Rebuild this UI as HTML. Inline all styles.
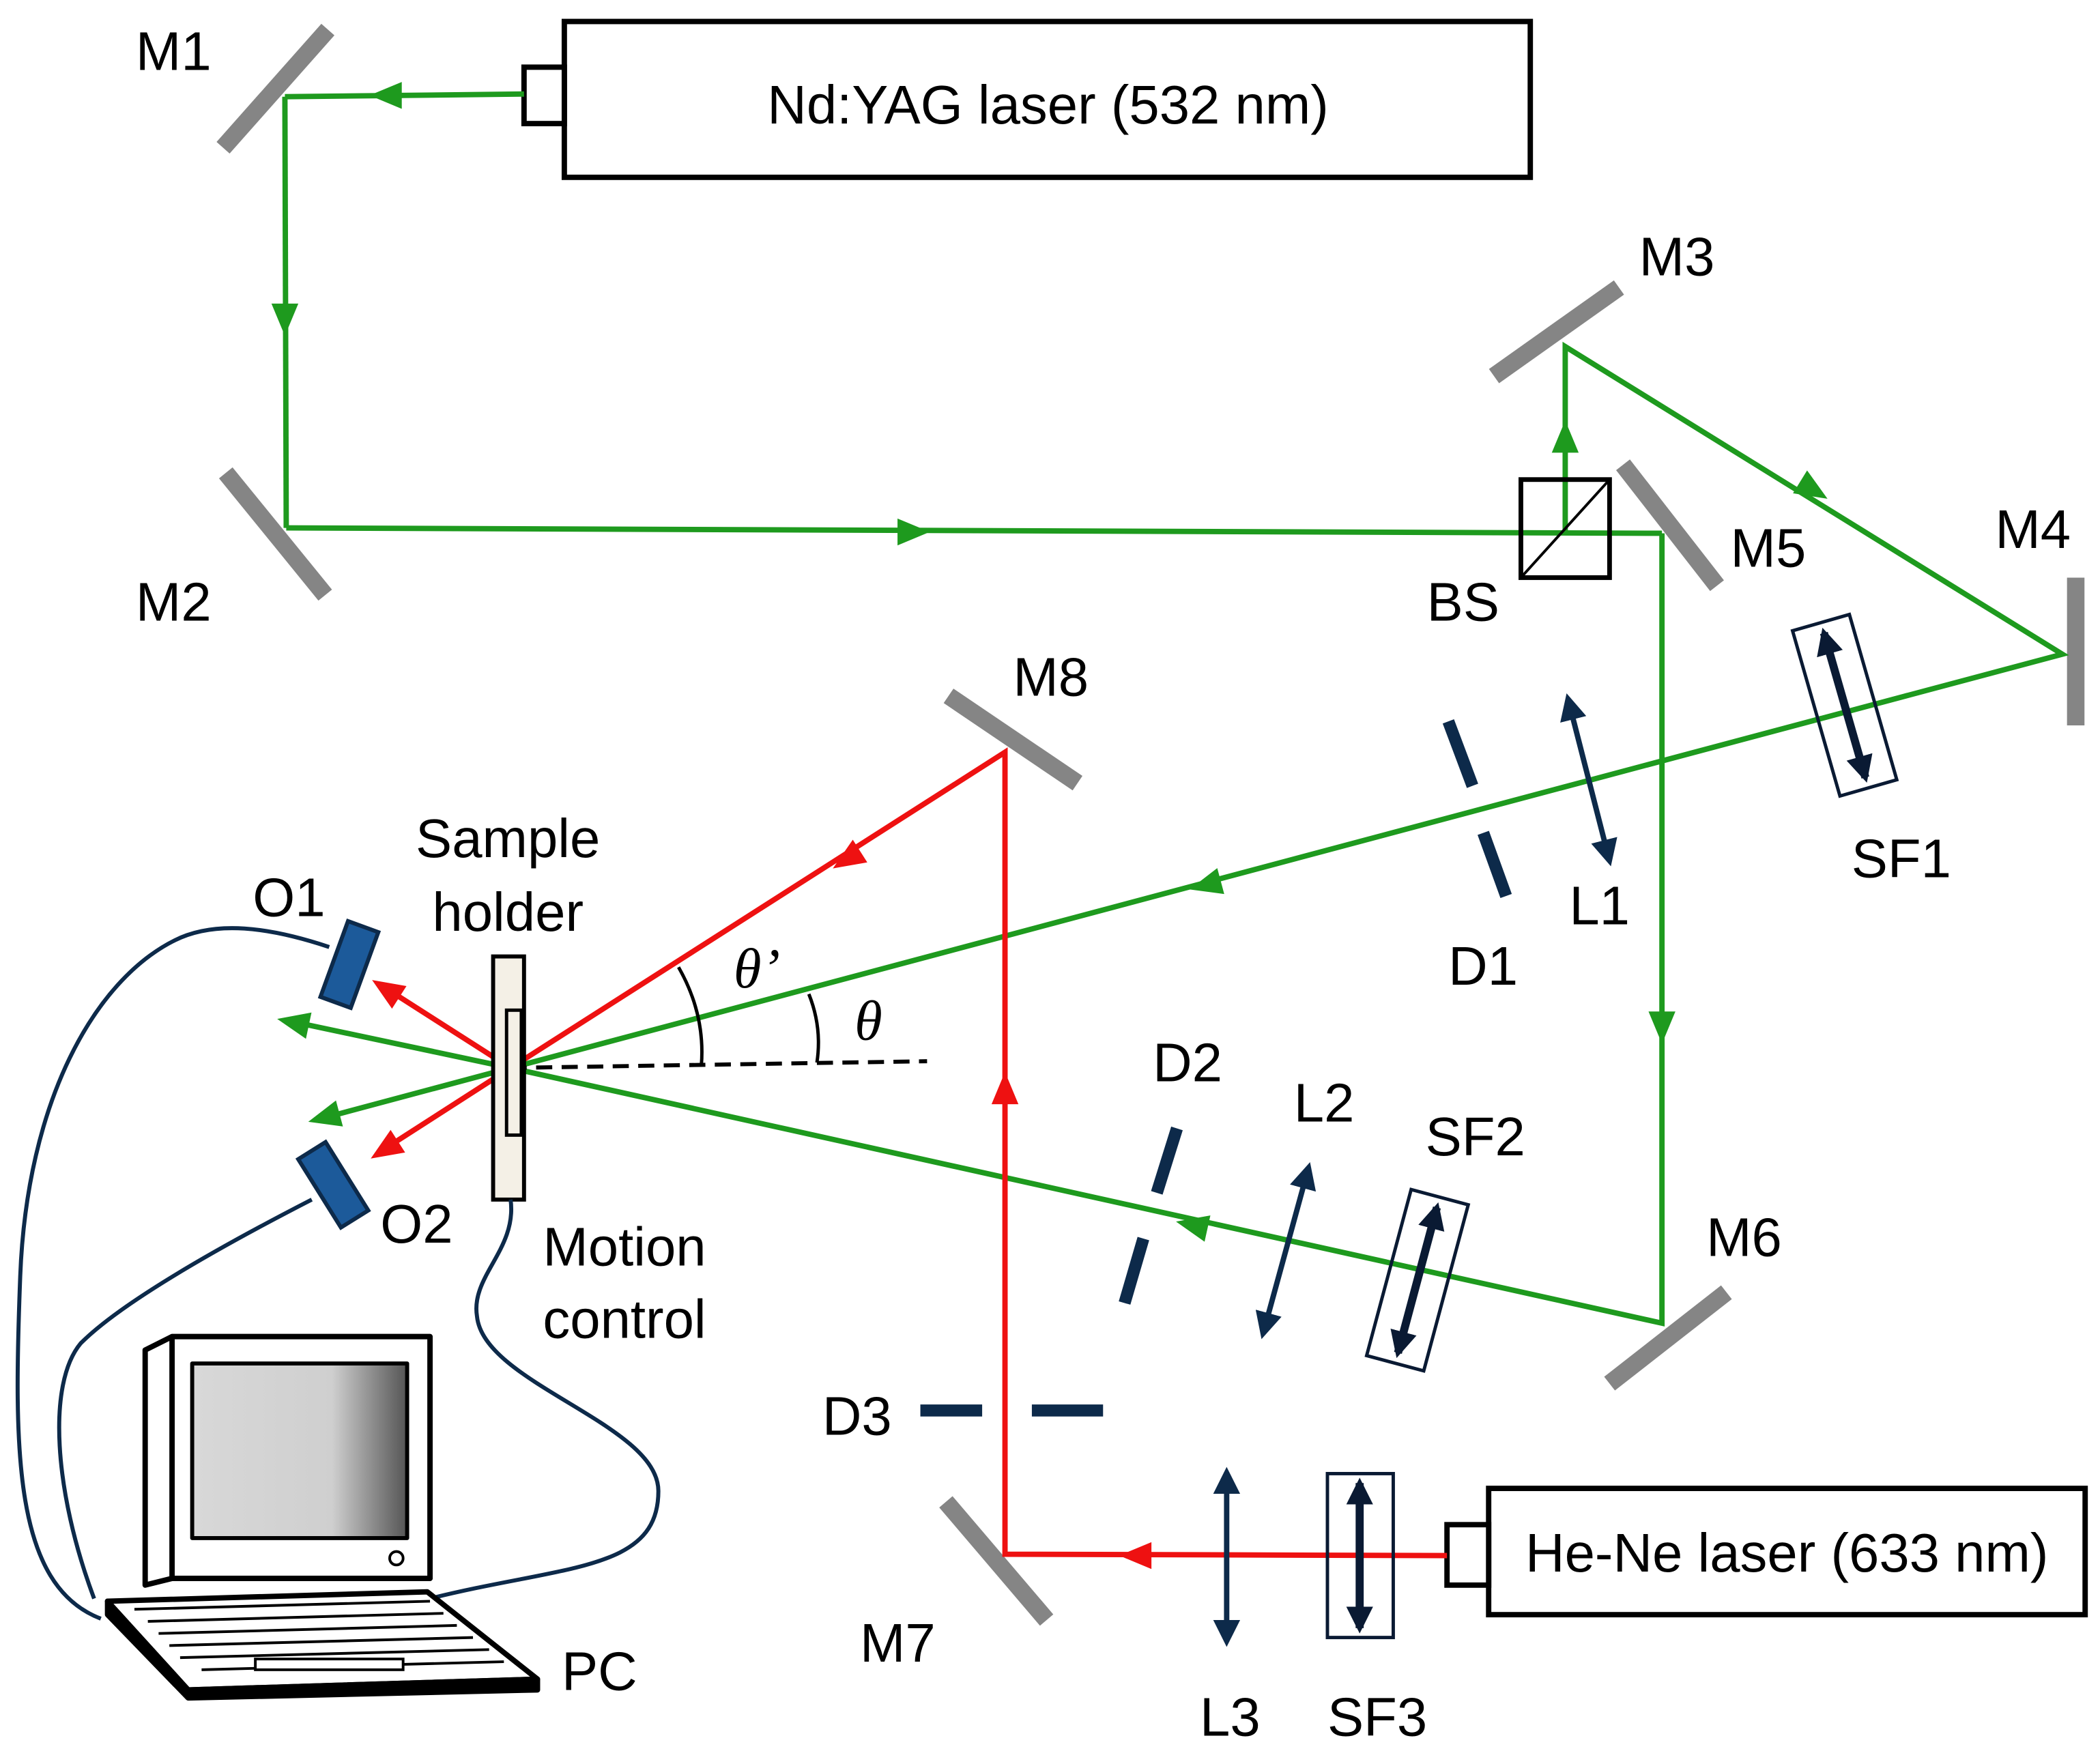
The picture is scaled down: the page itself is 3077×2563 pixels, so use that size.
<!DOCTYPE html>
<html><head><meta charset="utf-8"><style>
html,body{margin:0;padding:0;background:#fff;}
svg{display:block;}
text{font-family:"Liberation Sans",sans-serif;font-size:40.5px;fill:#000;}
</style></head><body>
<svg width="3077" height="2563" viewBox="0 0 1563 1302" xmlns="http://www.w3.org/2000/svg">
<defs>
<marker id="an" viewBox="0 0 10 10" refX="8" refY="5" markerUnits="userSpaceOnUse" markerWidth="20" markerHeight="20" orient="auto-start-reverse"><path d="M0,0 L10,5 L0,10 z" fill="#0d2a4a"/></marker>
<marker id="ak" viewBox="0 0 10 10" refX="8" refY="5" markerUnits="userSpaceOnUse" markerWidth="20" markerHeight="20" orient="auto-start-reverse"><path d="M0,0 L10,5 L0,10 z" fill="#0a1a33"/></marker>
<linearGradient id="scr" x1="0" x2="1"><stop offset="0" stop-color="#d8d8d8"/><stop offset="0.65" stop-color="#cfcfcf"/><stop offset="1" stop-color="#555"/></linearGradient>
</defs>

<!-- Nd:YAG laser -->
<rect x="420" y="16" width="719" height="116" fill="#fff" stroke="#000" stroke-width="4"/>
<rect x="390" y="50" width="30" height="42" fill="#fff" stroke="#000" stroke-width="4"/>
<text x="780" y="92" text-anchor="middle">Nd:YAG laser (532 nm)</text>

<!-- He-Ne laser -->
<rect x="1108" y="1108" width="444" height="94" fill="#fff" stroke="#000" stroke-width="4"/>
<rect x="1077" y="1135" width="31" height="45" fill="#fff" stroke="#000" stroke-width="4"/>
<text x="1330" y="1170" text-anchor="middle">He-Ne laser (633 nm)</text>

<!-- mirrors -->
<g stroke="#858585" stroke-width="13">
<line x1="166" y1="110" x2="244" y2="22"/>
<line x1="168" y1="352" x2="242" y2="443"/>
<line x1="1112" y1="280" x2="1205" y2="214"/>
<line x1="1208" y1="346" x2="1278" y2="436"/>
<line x1="1545" y1="430" x2="1545" y2="540"/>
<line x1="1198" y1="1030" x2="1285" y2="962"/>
<line x1="706" y1="518" x2="802" y2="583"/>
<line x1="704" y1="1118" x2="779" y2="1206"/>
</g>

<!-- green beams -->
<g stroke="#1e9a1e" stroke-width="4" fill="none">
<path d="M390,70 L212,72"/>
<path d="M212,72 L213,393"/>
<path d="M213,393 L1237,397"/>
<path d="M1165,395 L1165,258 L1535,487 L380,795"/>
<path d="M1237,397 L1237,985 L380,795"/>
<path d="M380,795 L215,760"/>
<path d="M380,795 L238,833"/>
</g>
<g fill="#1e9a1e">
<polygon points="12,0 -12,-10 -12,10" transform="translate(287,71) rotate(180)"/>
<polygon points="12,0 -12,-10 -12,10" transform="translate(212,238) rotate(90)"/>
<polygon points="12,0 -12,-10 -12,10" transform="translate(680,396) rotate(0)"/>
<polygon points="12,0 -12,-10 -12,10" transform="translate(1165,325) rotate(-90)"/>
<polygon points="12,0 -12,-10 -12,10" transform="translate(1350,365) rotate(31.7)"/>
<polygon points="12,0 -12,-10 -12,10" transform="translate(897,659) rotate(165)"/>
<polygon points="12,0 -12,-10 -12,10" transform="translate(1237,765) rotate(90)"/>
<polygon points="12,0 -12,-10 -12,10" transform="translate(887,912) rotate(192.5)"/>
<polygon points="12,0 -12,-10 -12,10" transform="translate(218,761) rotate(192)"/>
<polygon points="12,0 -12,-10 -12,10" transform="translate(241,832) rotate(165)"/>
</g>

<!-- BS -->
<rect x="1132" y="357" width="66" height="73" fill="none" stroke="#000" stroke-width="3.5"/>
<line x1="1132" y1="430" x2="1198" y2="357" stroke="#000" stroke-width="2"/>

<!-- red beams -->
<g stroke="#ee1111" stroke-width="4" fill="none">
<path d="M1077,1158 L748,1157 L748,560 L380,795"/>
<path d="M380,795 L283,733"/>
<path d="M380,795 L282,858"/>
</g>
<g fill="#ee1111">
<polygon points="12,0 -12,-10 -12,10" transform="translate(845,1158) rotate(180)"/>
<polygon points="12,0 -12,-10 -12,10" transform="translate(748,810) rotate(-90)"/>
<polygon points="12,0 -12,-10 -12,10" transform="translate(630,640) rotate(147.4)"/>
<polygon points="12,0 -12,-10 -12,10" transform="translate(287,736) rotate(212.6)"/>
<polygon points="12,0 -12,-10 -12,10" transform="translate(286,856) rotate(147.3)"/>
</g>

<!-- dashed normal & angles -->
<line x1="380" y1="795" x2="690" y2="790" stroke="#000" stroke-width="3" stroke-dasharray="12,7"/>
<path d="M505,720 Q525,755 522,793" stroke="#000" stroke-width="2.5" fill="none"/>
<path d="M602,740 Q612,765 608,791" stroke="#000" stroke-width="2.5" fill="none"/>
<text x="546" y="735" style="font-family:'Liberation Serif',serif;font-style:italic;font-size:42px">θ’</text>
<text x="636" y="774" style="font-family:'Liberation Serif',serif;font-style:italic;font-size:42px">θ</text>

<!-- apertures -->
<g stroke="#0d2a4a" stroke-width="9">
<line x1="1078" y1="537" x2="1096" y2="585"/>
<line x1="1104" y1="620" x2="1121" y2="667"/>
<line x1="876" y1="840" x2="861" y2="888"/>
<line x1="851" y1="922" x2="837" y2="970"/>
<line x1="685" y1="1050" x2="731" y2="1050"/>
<line x1="768" y1="1050" x2="821" y2="1050"/>
</g>

<!-- lenses -->
<g stroke="#0d2a4a" stroke-width="4">
<line x1="1167" y1="520" x2="1198" y2="641" marker-start="url(#an)" marker-end="url(#an)"/>
<line x1="974" y1="869" x2="940" y2="993" marker-start="url(#an)" marker-end="url(#an)"/>
<line x1="913" y1="1096" x2="913" y2="1222" marker-start="url(#an)" marker-end="url(#an)"/>
</g>

<!-- spatial filters -->
<g transform="translate(1373,525) rotate(-16)">
<rect x="-22" y="-64" width="44" height="128" fill="none" stroke="#0a1a33" stroke-width="2.5"/>
<line x1="0" y1="-56" x2="0" y2="56" stroke="#0a1a33" stroke-width="6" marker-start="url(#ak)" marker-end="url(#ak)"/>
</g>
<g transform="translate(1055,953) rotate(15)">
<rect x="-22" y="-64" width="44" height="128" fill="none" stroke="#0a1a33" stroke-width="2.5"/>
<line x1="0" y1="-56" x2="0" y2="56" stroke="#0a1a33" stroke-width="6" marker-start="url(#ak)" marker-end="url(#ak)"/>
</g>
<g transform="translate(1012,1158)">
<rect x="-24" y="-61" width="49" height="122" fill="none" stroke="#0a1a33" stroke-width="2.5"/>
<line x1="0" y1="-54" x2="0" y2="54" stroke="#0a1a33" stroke-width="6" marker-start="url(#ak)" marker-end="url(#ak)"/>
</g>

<!-- sample holder -->
<rect x="367" y="712" width="23" height="181" fill="#f4f0e6" stroke="#000" stroke-width="3"/>
<rect x="377" y="752" width="11" height="93" fill="#f4f0e6" stroke="#000" stroke-width="2.5"/>

<!-- detectors -->
<rect x="-12" y="-30" width="24" height="60" fill="#1c5a9a" stroke="#0d2a4a" stroke-width="3" transform="translate(260,718) rotate(20)"/>
<rect x="-12" y="-30" width="24" height="60" fill="#1c5a9a" stroke="#0d2a4a" stroke-width="3" transform="translate(248,882) rotate(-32)"/>

<!-- cables -->
<g stroke="#0d2a4a" stroke-width="3" fill="none">
<path d="M245,705 C200,690 160,685 130,700 C70,730 20,820 15,950 C10,1080 10,1180 75,1205"/>
<path d="M232,893 C160,930 90,970 60,1000 C35,1030 40,1110 70,1190"/>
<path d="M380,893 C385,930 350,950 355,980 C360,1030 490,1060 490,1110 C490,1170 420,1165 320,1190"/>
</g>

<!-- PC -->
<g stroke="#000" stroke-width="4" stroke-linejoin="round">
<polygon points="108,1005 128,995 320,995 320,1175 128,1175 108,1180" fill="#fff"/>
<rect x="128" y="995" width="192" height="180" fill="#fff"/>
<rect x="143" y="1015" width="160" height="130" fill="url(#scr)" stroke-width="3"/>
<circle cx="295" cy="1160" r="5" fill="#fff" stroke-width="2"/>
<polygon points="80,1192 318,1185 400,1250 140,1258" fill="#fff"/>
<polygon points="80,1192 80,1202 140,1264 400,1258 400,1250 140,1258" fill="#000"/>
</g>
<g stroke="#000" stroke-width="2">
<line x1="100" y1="1198" x2="320" y2="1192"/>
<line x1="110" y1="1207" x2="330" y2="1201"/>
<line x1="118" y1="1216" x2="340" y2="1210"/>
<line x1="126" y1="1225" x2="352" y2="1219"/>
<line x1="134" y1="1234" x2="364" y2="1228"/>
<line x1="150" y1="1243" x2="375" y2="1237"/>
</g>
<rect x="190" y="1235" width="110" height="8" fill="#fff" stroke="#000" stroke-width="2"/>

<!-- labels -->
<text x="101" y="52">M1</text>
<text x="101" y="462">M2</text>
<text x="1220" y="205">M3</text>
<text x="1485" y="408">M4</text>
<text x="1288" y="422">M5</text>
<text x="1062" y="462">BS</text>
<text x="1270" y="935">M6</text>
<text x="754" y="518">M8</text>
<text x="640" y="1237">M7</text>
<text x="1378" y="653">SF1</text>
<text x="1061" y="860">SF2</text>
<text x="988" y="1292">SF3</text>
<text x="1168" y="688">L1</text>
<text x="963" y="835">L2</text>
<text x="893" y="1292">L3</text>
<text x="1078" y="733">D1</text>
<text x="858" y="805">D2</text>
<text x="612" y="1068">D3</text>
<text x="188" y="682">O1</text>
<text x="283" y="925">O2</text>
<text x="418" y="1258">PC</text>
<text x="378" y="638" text-anchor="middle">Sample</text>
<text x="378" y="693" text-anchor="middle">holder</text>
<text x="404" y="942">Motion</text>
<text x="404" y="996">control</text>
</svg>
</body></html>
